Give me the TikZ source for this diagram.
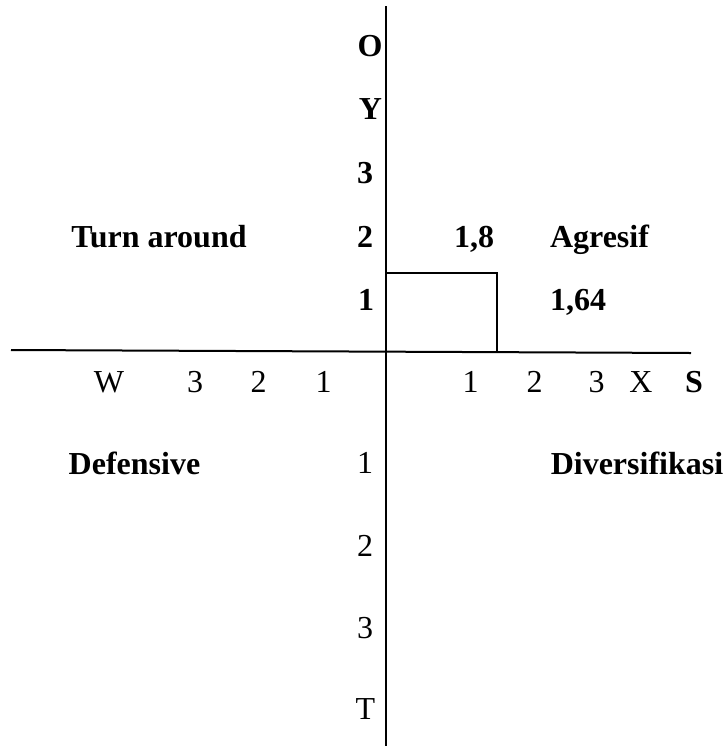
\documentclass[tikz,border=0pt]{standalone}
\usepackage{fontspec}
\setmainfont{Liberation Serif}
\begin{document}
\begin{tikzpicture}[x=0.5pt,y=-0.5pt,
  lbl/.style={anchor=base,inner sep=0pt,font=\fontsize{16}{19}\selectfont},
  blbl/.style={lbl,font=\fontsize{16}{19}\selectfont\bfseries},
  axis/.style={line width=1pt,black}]
\useasboundingbox (0,0) rectangle (724,746);
% axes
\coordinate (top) at (386,6);
\coordinate (bottom) at (386,746);
\coordinate (left) at (11,350);
\coordinate (right) at (691,353);
\coordinate (r1) at (386,273);
\coordinate (r2) at (497,273);
\coordinate (r3) at (497,352);
\draw[axis] (top) -- (bottom);
\draw[axis] (left) -- (right);
\draw[line width=0.9pt] (r1) -- (r2) -- (r3);
% vertical labels (upper, bold)
\node[blbl] (vO) at (370,56) {O};
\node[blbl] (vY) at (370.5,119) {Y};
\node[blbl] (v3) at (365,183) {3};
\node[blbl] (v2) at (365,247) {2};
\node[blbl] (v1) at (366,310) {1};
% vertical labels (lower)
\node[lbl] (l1) at (365,473) {1};
\node[lbl] (l2) at (365,556) {2};
\node[lbl] (l3) at (365,638) {3};
\node[lbl] (lT) at (365.5,719) {T};
% horizontal labels
\node[lbl] (hW) at (109,392) {W};
\node[lbl] (h3l) at (195,392) {3};
\node[lbl] (h2l) at (258.5,392) {2};
\node[lbl] (h1l) at (323.5,392) {1};
\node[lbl] (h1r) at (470.5,392) {1};
\node[lbl] (h2r) at (534.5,392) {2};
\node[lbl] (h3r) at (596.5,392) {3};
\node[lbl] (hX) at (641,392) {X};
\node[blbl] (hS) at (694,392) {S};
% quadrant labels
\node[blbl] (turn) at (159,247) {Turn around};
\node[blbl] (v18) at (474,247) {1,8};
\node[blbl] (agr) at (599.5,247) {Agresif};
\node[blbl] (v164) at (578,310) {1,64};
\node[blbl] (def) at (134.5,474) {Defensive};
\node[blbl] (div) at (637,474) {Diversifikasi};
\end{tikzpicture}
\end{document}
